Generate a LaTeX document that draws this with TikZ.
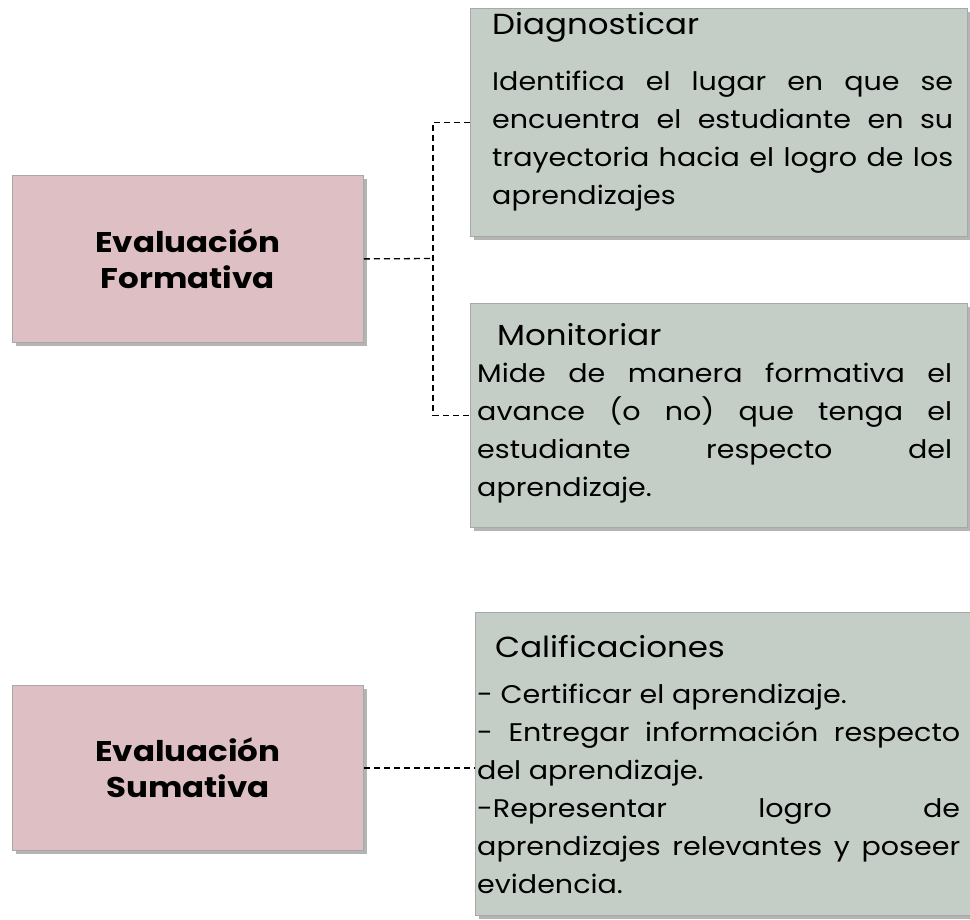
\documentclass[tikz,border=0pt]{standalone}
\usepackage{fontspec}
\setmainfont{Poppins}
\newfontfamily\cardfont{Poppins}[FakeStretch=1.12]
\newfontfamily\topicfont{Poppins}[FakeStretch=1.14]
\usepackage{tikz}
\usetikzlibrary{positioning,shadows}
\definecolor{pinkfill}{HTML}{DEC0C4}
\definecolor{greenfill}{HTML}{C4CEC6}
\definecolor{shadowgray}{HTML}{B4B4B4}
\definecolor{edgegray}{HTML}{A8A8A8}
\tikzstyle{card}=[draw=edgegray,line width=0.8pt,anchor=north west,inner sep=0pt,general shadow={fill=shadowgray,shadow xshift=4pt,shadow yshift=-4pt}]
\tikzstyle{topic}=[card,fill=pinkfill,minimum width=351pt,align=center,font=\topicfont\fontsize{28.5}{36}\selectfont\bfseries]
\tikzstyle{detail}=[card,fill=greenfill]
\tikzstyle{heading}=[anchor=base west,inner sep=0pt,font=\cardfont\fontsize{29}{34}\selectfont]
\tikzstyle{body}=[anchor=north west,inner sep=0pt,align=justify,font=\cardfont\fontsize{25.5}{38}\selectfont,execute at begin node={\hyphenpenalty=10000 \tolerance=9999 }]
\tikzstyle{link}=[line width=1.3pt,dash pattern=on 6pt off 4pt]

\begin{document}
\begin{tikzpicture}[x=1pt,y=-1pt]
\useasboundingbox (0,0) rectangle (970,920);

\node [topic,minimum height=167pt] (formativa) at (12,175) {Evaluación\\Formativa};
\node [topic,minimum height=165pt] (sumativa) at (12,685) {Evaluación\\Sumativa};

\node [detail,minimum width=497pt,minimum height=228pt] (diag) at (470,8) {};
\node [heading] (diagtitle) at (492,35) {Diagnosticar};
\node [body,text width=461pt] (diagtext) at (492,71) {Identifica el lugar en que se\linebreak encuentra el estudiante en su\linebreak trayectoria hacia el logro de los\linebreak aprendizajes};

\node [detail,minimum width=497pt,minimum height=224pt] (monit) at (470,303) {};
\node [heading] (monittitle) at (497,345) {Monitoriar};
\node [body,text width=475pt] (monittext) at (477,363) {Mide de manera formativa el\linebreak avance (o no) que tenga el\linebreak estudiante respecto del\linebreak aprendizaje.};

\node [detail,minimum width=495pt,minimum height=303pt] (calif) at (475,612) {};
\node [heading] (califtitle) at (495,657) {Calificaciones};
\node [body,text width=483pt] (califtext) at (477,684) {- Certificar el aprendizaje.\par - Entregar información respecto\linebreak del aprendizaje.\par -Representar logro de\linebreak aprendizajes relevantes y poseer\linebreak evidencia.};

\coordinate (fork) at (433,258.5);
\draw [link] (formativa.east) -- (fork);
\draw [link] (diag.west) -| (fork) |- (monit.west);
\draw [link] (sumativa.east) -- (sumativa.east -| calif.west);
\end{tikzpicture}
\end{document}
